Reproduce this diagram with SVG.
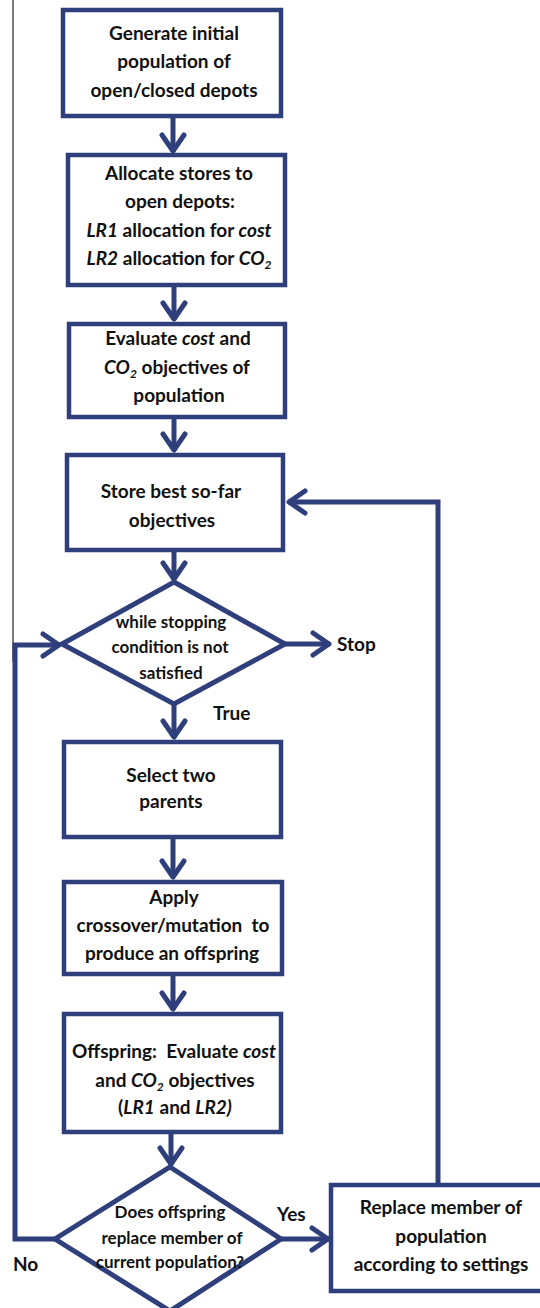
<svg xmlns="http://www.w3.org/2000/svg" width="540" height="1308" viewBox="0 0 540 1308">
<style>
.box{fill:#fff;stroke:#2f3f7b;stroke-width:4.5}
.dia{fill:#fff;stroke:#2f3f7b;stroke-width:5;stroke-linejoin:miter}
.ln{fill:none;stroke:#2f3f7b;stroke-width:5}
text{font-family:Lato,"Open Sans","Liberation Sans",sans-serif;font-weight:bold;font-size:19px;fill:#111;text-anchor:middle}
.dt{font-size:17px}
.lbl{text-anchor:start}
.i{font-style:italic}
.sub{font-size:12px}
</style>
<defs>
<marker id="ah" markerUnits="userSpaceOnUse" orient="auto" overflow="visible" refX="0" refY="0" markerWidth="30" markerHeight="30">
<path d="M-17,-11 L-1,0 L-17,11" fill="none" stroke="#2f3f7b" stroke-width="5" stroke-linecap="round" stroke-linejoin="round"/>
</marker>
</defs>
<line x1="13" y1="0" x2="13" y2="662" stroke="#222" stroke-width="1.2"/>
<g id="connectors">
<path class="ln" d="M173,118 V152" marker-end="url(#ah)"/>
<path class="ln" d="M174,287 V320" marker-end="url(#ah)"/>
<path class="ln" d="M174,419 V451" marker-end="url(#ah)"/>
<path class="ln" d="M438,1183 V502 H288" marker-end="url(#ah)"/>
<path class="ln" d="M174,552 V580" marker-end="url(#ah)"/>
<path class="ln" d="M285,644 H330" marker-end="url(#ah)"/>
<path class="ln" d="M174,704 V738" marker-end="url(#ah)"/>
<path class="ln" d="M173,838 V878" marker-end="url(#ah)"/>
<path class="ln" d="M173,975 V1010" marker-end="url(#ah)"/>
<path class="ln" d="M171,1133 V1165" marker-end="url(#ah)"/>
<path class="ln" d="M281,1239 H329" marker-end="url(#ah)"/>
<path class="ln" d="M55,1239 H15 V645 H60" marker-end="url(#ah)"/>
<text class="lbl" x="337" y="651">Stop</text>
<text class="lbl" x="213" y="720">True</text>
<text class="lbl" x="277" y="1221">Yes</text>
<text class="lbl" x="13" y="1271">No</text>
</g>
<g id="n1">
<rect class="box" x="63" y="10" width="218" height="106"/>
<text x="174" y="40">Generate initial</text>
<text x="174" y="68">population of</text>
<text x="174" y="97">open/closed depots</text>
</g>
<g id="n2">
<rect class="box" x="68" y="155" width="217" height="130"/>
<text x="179" y="180">Allocate stores to</text>
<text x="180" y="208">open depots:</text>
<text x="179" y="237"><tspan class="i">LR1</tspan> allocation for <tspan class="i">cost</tspan></text>
<text x="179" y="265"><tspan class="i">LR2</tspan> allocation for <tspan class="i">CO<tspan class="sub" dy="4">2</tspan></tspan></text>
</g>
<g id="n3">
<rect class="box" x="69" y="324" width="216" height="93"/>
<text x="178" y="345">Evaluate <tspan class="i">cost</tspan> and</text>
<text x="177" y="374"><tspan class="i">CO<tspan class="sub" dy="4">2</tspan></tspan><tspan dy="-4"> objectives of</tspan></text>
<text x="179" y="402">population</text>
</g>
<g id="n4">
<rect class="box" x="67" y="455" width="216" height="95"/>
<text x="171" y="498">Store best so-far</text>
<text x="172" y="527">objectives</text>
</g>
<g id="d1">
<polygon class="dia" points="174,582 285,644 174,704 62,644"/>
<text class="dt" x="171" y="628">while stopping</text>
<text class="dt" x="170" y="653">condition is not</text>
<text class="dt" x="171" y="679">satisfied</text>
</g>
<g id="n5">
<rect class="box" x="64" y="742" width="217" height="95"/>
<text x="171" y="782">Select two</text>
<text x="171" y="808">parents</text>
</g>
<g id="n6">
<rect class="box" x="64" y="882" width="218" height="92"/>
<text x="174" y="904">Apply</text>
<text x="173" y="932" xml:space="preserve">crossover/mutation  to</text>
<text x="172" y="960">produce an offspring</text>
</g>
<g id="n7">
<rect class="box" x="64" y="1014" width="217" height="118"/>
<text x="174" y="1058" xml:space="preserve">Offspring:  Evaluate <tspan class="i">cost</tspan></text>
<text x="175" y="1087">and <tspan class="i">CO<tspan class="sub" dy="4">2</tspan></tspan><tspan dy="-4"> objectives</tspan></text>
<text x="175" y="1114">(<tspan class="i">LR1</tspan> and <tspan class="i">LR2)</tspan></text>
</g>
<g id="d2">
<polygon class="dia" points="170,1167 281,1239 170,1311 55,1239"/>
<text class="dt" x="170" y="1218">Does offspring</text>
<text class="dt" x="172" y="1244">replace member of</text>
<text class="dt" x="170" y="1268">current population?</text>
</g>
<g id="n8">
<rect class="box" x="331" y="1185" width="221" height="106"/>
<text x="441" y="1214">Replace member of</text>
<text x="441" y="1243">population</text>
<text x="441" y="1271">according to settings</text>
</g>
</svg>
